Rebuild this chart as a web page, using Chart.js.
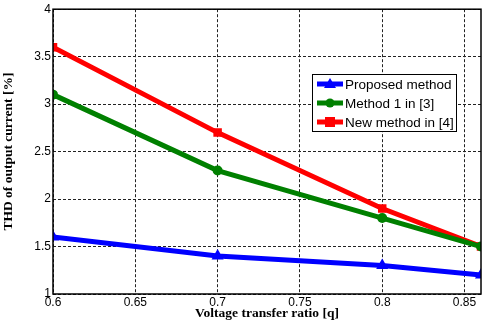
<!DOCTYPE html>
<html>
<head>
<meta charset="utf-8">
<script src="https://cdn.jsdelivr.net/npm/chart.js@4/dist/chart.umd.min.js"></script>
<style>
  html, body { margin: 0; padding: 0; background: #fff; }
  #wrap { width: 488px; height: 329px; }
</style>
</head>
<body>
<div id="wrap"><canvas id="chart" width="488" height="329"></canvas></div>
<script>
// data
const ratios = [0.6, 0.7, 0.8, 0.86];
const proposed = [1.6, 1.4, 1.3, 1.2];
const method1 = [3.1, 2.3, 1.8, 1.5];
const newMethod = [3.6, 2.7, 1.9, 1.5];
const seriesNames = ["Proposed method", "Method 1 in [3]", "New method in [4]"];
const xTicks = [0.6, 0.65, 0.7, 0.75, 0.8, 0.85];
const yTicks = [1, 1.5, 2, 2.5, 3, 3.5, 4];

const toPoints = (ys) => ratios.map((x, i) => ({ x: x, y: ys[i] }));

const tickFont = { family: "Arial, 'Liberation Sans', sans-serif", size: 12 };
const titleFont = { family: "'Times New Roman', 'Liberation Serif', serif", size: 13.5, weight: "bold" };

// box round the plot and legend inside it
const boxPlugin = {
  id: "boxLegend",
  afterDraw(chart) {
    const ctx = chart.ctx;
    const a = chart.chartArea;
    ctx.save();
    ctx.strokeStyle = "#000";
    ctx.lineWidth = 1.5;
    ctx.strokeRect(a.left, a.top, a.right - a.left, a.bottom - a.top);

    // legend
    const lx = 312, ly = 74, lw = 144, lh = 57;
    ctx.fillStyle = "#fff";
    ctx.fillRect(lx, ly, lw, lh);
    ctx.lineWidth = 1;
    ctx.strokeRect(lx + 0.5, ly + 0.5, lw, lh);
    ctx.font = "13.5px Arial, 'Liberation Sans', sans-serif";
    ctx.textBaseline = "middle";
    chart.data.datasets.forEach((ds, i) => {
      const y = ly + 10 + i * 19;
      ctx.strokeStyle = ds.borderColor;
      ctx.lineWidth = 5;
      ctx.beginPath();
      ctx.moveTo(lx + 5, y);
      ctx.lineTo(lx + 31, y);
      ctx.stroke();
      ctx.fillStyle = ds.borderColor;
      const cx = lx + 18;
      ctx.beginPath();
      if (ds.pointStyle === "triangle") {
        ctx.moveTo(cx, y - 6);
        ctx.lineTo(cx + 6, y + 4);
        ctx.lineTo(cx - 6, y + 4);
        ctx.closePath();
      } else if (ds.pointStyle === "circle") {
        ctx.arc(cx, y, 4.5, 0, Math.PI * 2);
      } else {
        ctx.rect(cx - 5, y - 5, 10, 10);
      }
      ctx.fill();
      ctx.fillStyle = "#000";
      ctx.fillText(ds.label, lx + 33, y + 1);
    });
    ctx.restore();
  }
};

new Chart(document.getElementById("chart"), {
  type: "line",
  plugins: [boxPlugin],
  data: {
    datasets: [
      { label: seriesNames[0], data: toPoints(proposed), borderColor: "#0000ff", backgroundColor: "#0000ff", pointStyle: "triangle", pointRadius: 7 },
      { label: seriesNames[1], data: toPoints(method1), borderColor: "#008000", backgroundColor: "#008000", pointStyle: "circle", pointRadius: 5 },
      { label: seriesNames[2], data: toPoints(newMethod), borderColor: "#ff0000", backgroundColor: "#ff0000", pointStyle: "rect", pointRadius: 6 }
    ].map(d => Object.assign(d, { borderWidth: 5, tension: 0, pointBorderWidth: 0 }))
  },
  options: {
    responsive: false,
    animation: false,
    layout: { padding: { left: 0, right: 5, top: 6, bottom: 7 } },
    plugins: { legend: { display: false }, tooltip: { enabled: false } },
    scales: {
      x: {
        type: "linear",
        min: 0.6,
        max: 0.86,
        afterBuildTicks: (s) => { s.ticks = xTicks.map(v => ({ value: v })); },
        afterFit: (s) => { s.height = 28; },
        ticks: { color: "#000", font: tickFont, padding: 1, maxRotation: 0, callback: (v) => String(v) },
        grid: { color: "#222", lineWidth: 1, drawTicks: false, tickLength: 0 },
        border: { display: false, dash: [3, 2] },
        title: { display: true, text: "Voltage transfer ratio [q]", color: "#000", font: titleFont, padding: { top: 0, bottom: 0 } }
      },
      y: {
        min: 1,
        max: 4,
        afterBuildTicks: (s) => { s.ticks = yTicks.map(v => ({ value: v })); },
        afterFit: (s) => { s.width = 53; },
        ticks: { color: "#000", font: tickFont, padding: 2, callback: (v) => String(v) },
        grid: { color: "#222", lineWidth: 1, drawTicks: false, tickLength: 0 },
        border: { display: false, dash: [3, 2] },
        title: { display: true, text: "THD of output current [%]", color: "#000", font: titleFont, padding: { top: 0, bottom: 2 } }
      }
    }
  }
});
</script>
</body>
</html>
